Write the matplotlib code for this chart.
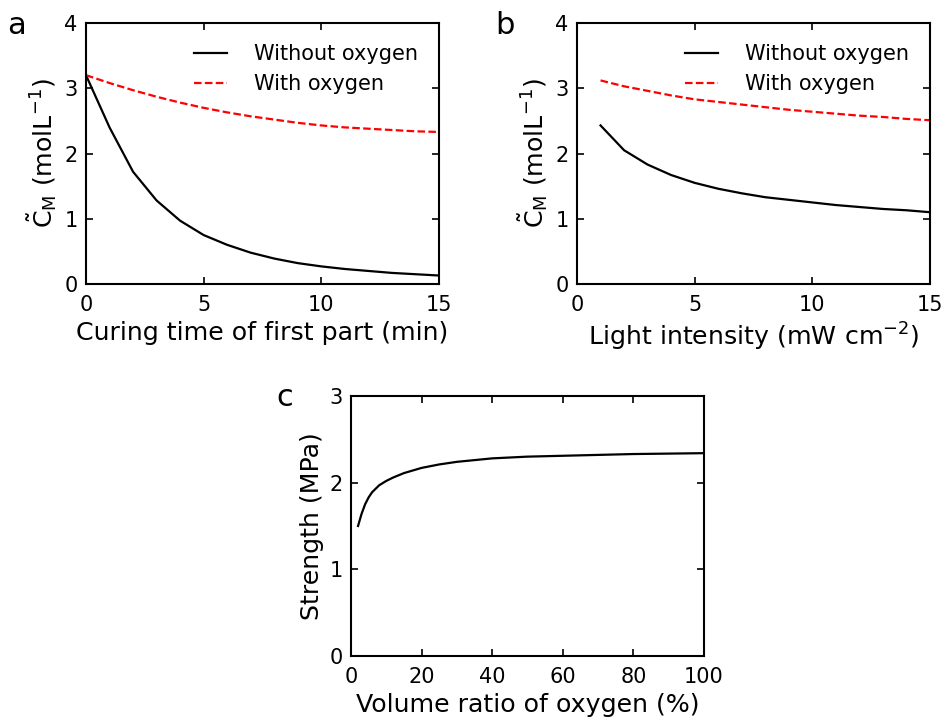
import matplotlib
matplotlib.use("Agg")
import matplotlib.pyplot as plt

# =========================
# DATA
# =========================

# panel a: curing time of first part (min)
time_min = [0, 1, 2, 3, 4, 5, 6, 7, 8, 9, 10, 11, 12, 13, 14, 15]
cm_time_no_o2 = [3.20, 2.40, 1.72, 1.28, 0.97, 0.75, 0.60, 0.48, 0.39,
                 0.32, 0.27, 0.23, 0.20, 0.17, 0.15, 0.13]
cm_time_o2 = [3.20, 3.08, 2.97, 2.87, 2.78, 2.70, 2.63, 2.57, 2.52,
              2.47, 2.43, 2.40, 2.38, 2.36, 2.34, 2.33]

# panel b: light intensity (mW cm^-2)
intensity = [1, 2, 3, 4, 5, 6, 7, 8, 9, 10, 11, 12, 13, 14, 15]
cm_int_no_o2 = [2.43, 2.05, 1.83, 1.67, 1.55, 1.46, 1.39, 1.33, 1.29,
                1.25, 1.21, 1.18, 1.15, 1.13, 1.10]
cm_int_o2 = [3.12, 3.03, 2.96, 2.89, 2.83, 2.79, 2.75, 2.71, 2.67,
             2.64, 2.61, 2.58, 2.56, 2.53, 2.51]

# panel c: volume ratio of oxygen (%)
o2_ratio = [2, 3, 4, 5, 6, 7, 8, 10, 12, 15, 20, 25, 30, 40, 50, 60, 70, 80, 90, 100]
strength = [1.50, 1.64, 1.75, 1.83, 1.89, 1.93, 1.97, 2.02, 2.06, 2.11, 2.17,
            2.21, 2.24, 2.28, 2.30, 2.31, 2.32, 2.33, 2.335, 2.34]

# =========================
# STYLE
# =========================

plt.rcParams["font.family"] = ["DejaVu Sans"]
plt.rcParams["mathtext.fontset"] = "dejavusans"
plt.rcParams["xtick.direction"] = "in"
plt.rcParams["ytick.direction"] = "in"
plt.rcParams["xtick.top"] = True
plt.rcParams["ytick.right"] = True
plt.rcParams["xtick.major.size"] = 5
plt.rcParams["ytick.major.size"] = 5
plt.rcParams["axes.linewidth"] = 1.5

TICK_FS = 15
LABEL_FS = 18.2
LEGEND_FS = 15
PANEL_FS = 22
LW = 1.6
DASH = (0, (3.4, 1.5))
CM_LABEL = r"$\tilde{\mathrm{C}}_{\mathrm{M}}\ (\mathrm{molL}^{-1})$"


def style_axes(ax):
    ax.tick_params(axis="x", labelsize=TICK_FS, width=1.2, pad=8)
    ax.tick_params(axis="y", labelsize=TICK_FS, width=1.2, pad=6)


def add_legend(ax):
    ax.legend(loc="upper right", frameon=False, fontsize=LEGEND_FS,
              handlelength=1.6, handletextpad=1.3, borderaxespad=0.6)


fig = plt.figure(figsize=(9.43, 7.21), dpi=100)

# --- panel a ---
ax_a = fig.add_axes([0.0912, 0.6061, 0.3743, 0.362])
ax_a.plot(time_min, cm_time_no_o2, color="black", lw=LW, label="Without oxygen")
ax_a.plot(time_min, cm_time_o2, color="red", lw=LW, ls=DASH, label="With oxygen")
ax_a.set_xlim(0, 15)
ax_a.set_ylim(0, 4)
ax_a.set_xticks([0, 5, 10, 15])
ax_a.set_yticks([0, 1, 2, 3, 4])
ax_a.set_xlabel("Curing time of first part (min)", fontsize=LABEL_FS)
ax_a.set_ylabel(CM_LABEL, fontsize=LABEL_FS)
add_legend(ax_a)
style_axes(ax_a)
fig.text(0.008, 0.965, "a", fontsize=PANEL_FS, va="center")

# --- panel b ---
ax_b = fig.add_axes([0.6119, 0.6061, 0.3743, 0.362])
ax_b.plot(intensity, cm_int_no_o2, color="black", lw=LW, label="Without oxygen")
ax_b.plot(intensity, cm_int_o2, color="red", lw=LW, ls=DASH, label="With oxygen")
ax_b.set_xlim(0, 15)
ax_b.set_ylim(0, 4)
ax_b.set_xticks([0, 5, 10, 15])
ax_b.set_yticks([0, 1, 2, 3, 4])
ax_b.set_xlabel(r"Light intensity ($\mathrm{mW\ cm^{-2}}$)", fontsize=LABEL_FS)
ax_b.set_ylabel(CM_LABEL, fontsize=LABEL_FS)
add_legend(ax_b)
style_axes(ax_b)
fig.text(0.525, 0.965, "b", fontsize=PANEL_FS, va="center")

# --- panel c ---
ax_c = fig.add_axes([0.3722, 0.0902, 0.3743, 0.3606])
ax_c.plot(o2_ratio, strength, color="black", lw=LW)
ax_c.set_xlim(0, 100)
ax_c.set_ylim(0, 3)
ax_c.set_xticks([0, 20, 40, 60, 80, 100])
ax_c.set_yticks([0, 1, 2, 3])
ax_c.set_xlabel("Volume ratio of oxygen (%)", fontsize=LABEL_FS)
ax_c.set_ylabel("Strength (MPa)", fontsize=LABEL_FS)
style_axes(ax_c)
fig.text(0.293, 0.448, "c", fontsize=PANEL_FS, va="center")

fig.savefig("out.png", dpi=100)
plt.close(fig)
